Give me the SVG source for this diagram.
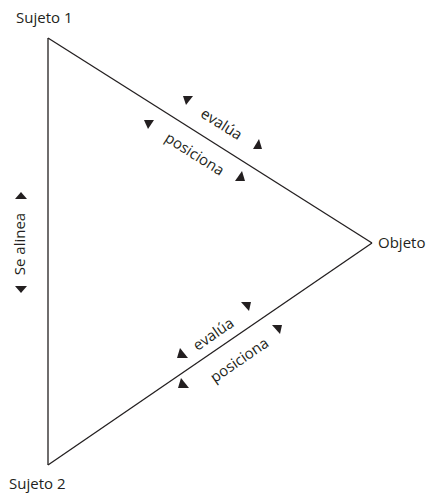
<svg xmlns="http://www.w3.org/2000/svg" width="443" height="495" viewBox="0 0 443 495">
  <style>
    .lbl { font-family: "Open Sans", "Noto Sans", sans-serif; font-size: 15px; fill: #231f20; }
    .edge { fill: none; stroke: #231f20; stroke-width: 1.3; }
    .tip { fill: #231f20; }
  </style>
  <rect width="443" height="495" fill="#ffffff"/>

  <!-- triangle sides -->
  <g id="connectors">
    <line class="edge" x1="48" y1="38" x2="372" y2="243"/>
    <line class="edge" x1="372" y1="243" x2="48" y2="465"/>
    <line class="edge" x1="48" y1="38" x2="48" y2="465"/>
  </g>

  <g id="sujeto1">
    <text class="lbl" x="16" y="23">Sujeto 1</text>
  </g>
  <g id="objeto">
    <text class="lbl" x="378" y="248">Objeto</text>
  </g>
  <g id="sujeto2">
    <text class="lbl" x="9" y="489">Sujeto 2</text>
  </g>

  <!-- Sujeto 1 to Objeto -->
  <g id="label-s1-evalua">
    <text class="lbl" text-anchor="middle" transform="translate(221,125) rotate(32.3)" y="4">evalúa</text>
    <polygon class="tip" points="183,96 193,96 186,105"/>
    <polygon class="tip" points="259,139 253,149 262,149"/>
  </g>
  <g id="label-s1-posiciona">
    <text class="lbl" text-anchor="middle" transform="translate(194,155) rotate(32.3)" y="4">posiciona</text>
    <polygon class="tip" points="144,120 154,120 148,129"/>
    <polygon class="tip" points="242,171 235,181 245,181"/>
  </g>

  <!-- Sujeto 2 to Objeto -->
  <g id="label-s2-evalua">
    <text class="lbl" text-anchor="middle" transform="translate(214,335) rotate(-34.4)" y="4">evalúa</text>
    <polygon class="tip" points="180,348 177,358 188,358"/>
    <polygon class="tip" points="241,302 251,302 249,311"/>
  </g>
  <g id="label-s2-posiciona">
    <text class="lbl" text-anchor="middle" transform="translate(240,361) rotate(-34.4)" y="4">posiciona</text>
    <polygon class="tip" points="181,378 178,388 189,388"/>
    <polygon class="tip" points="272,325 282,325 280,334"/>
  </g>

  <!-- Sujeto 1 to Sujeto 2 -->
  <g id="label-alinea">
    <text class="lbl" text-anchor="middle" transform="translate(20,244) rotate(-90)" y="5">Se alinea</text>
    <polygon class="tip" points="21,192 15,199 27,199"/>
    <polygon class="tip" points="15,286 27,286 21,293"/>
  </g>
</svg>
